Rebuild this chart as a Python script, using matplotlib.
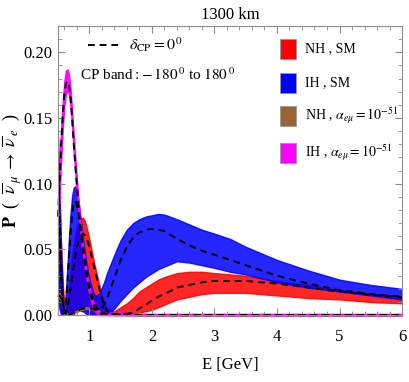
import matplotlib
matplotlib.use("Agg")
import matplotlib.pyplot as plt
from matplotlib.patches import Rectangle

plt.rcParams['font.family'] = ['Liberation Serif', 'DejaVu Serif']
plt.rcParams['mathtext.fontset'] = 'stix'

# ---------------- data ----------------
E = [0.5, 0.525, 0.55, 0.575, 0.6, 0.625, 0.65, 0.675, 0.7, 0.725, 0.75, 0.775,
     0.8, 0.825, 0.85, 0.875, 0.9, 0.925, 0.95, 0.975, 1.0, 1.025, 1.05, 1.075,
     1.1, 1.125, 1.15, 1.175, 1.2, 1.225, 1.25, 1.275, 1.3,
     1.4, 1.5, 1.6, 1.7, 1.8, 1.9, 2.0, 2.1, 2.2,
     2.4, 2.6, 2.8, 3.0, 3.25, 3.5, 3.75, 4.0, 4.5, 5.0, 5.5, 6.0]

# IH, SM (blue band)
ih_sm_upper = [0.135, 0.090, 0.048, 0.016, 0.004, 0.018, 0.038, 0.060, 0.078, 0.091, 0.097, 0.098,
               0.094, 0.087, 0.078, 0.068, 0.058, 0.049, 0.041, 0.034, 0.028, 0.023, 0.019, 0.016,
               0.015, 0.015, 0.016, 0.018, 0.021, 0.024, 0.027, 0.031, 0.034,
               0.046, 0.057, 0.065, 0.070, 0.073, 0.075, 0.076, 0.077, 0.0765,
               0.073, 0.069, 0.065, 0.062, 0.058, 0.052, 0.047, 0.042, 0.034, 0.027, 0.023, 0.020]
ih_sm_lower = [0.020, 0.005, 0.0, 0.0, 0.0, 0.0, 0.0, 0.0, 0.001, 0.002, 0.003, 0.004,
               0.004, 0.004, 0.004, 0.003, 0.003, 0.002, 0.001, 0.0, 0.0, 0.0, 0.0, 0.0,
               0.0, 0.0, 0.0, 0.0, 0.0, 0.0, 0.0, 0.0, 0.001,
               0.005, 0.011, 0.016, 0.021, 0.025, 0.029, 0.032, 0.035, 0.037,
               0.041, 0.040, 0.038, 0.036, 0.033, 0.031, 0.028, 0.025, 0.021, 0.018, 0.015, 0.012]
ih_sm_d0 = [0.120, 0.070, 0.030, 0.008, 0.002, 0.010, 0.025, 0.045, 0.063, 0.077, 0.085, 0.087,
            0.084, 0.078, 0.070, 0.061, 0.052, 0.044, 0.036, 0.029, 0.023, 0.018, 0.013, 0.010,
            0.007, 0.005, 0.004, 0.004, 0.005, 0.007, 0.009, 0.012, 0.015,
            0.028, 0.042, 0.052, 0.059, 0.063, 0.065, 0.0655, 0.065, 0.064,
            0.058, 0.053, 0.049, 0.046, 0.042, 0.038, 0.034, 0.030, 0.024, 0.019, 0.016, 0.014]

# NH, SM (red band)
nh_sm_upper = [0.112, 0.082, 0.050, 0.024, 0.008, 0.004, 0.012, 0.022, 0.033, 0.044, 0.053, 0.061,
               0.067, 0.071, 0.073, 0.074, 0.074, 0.072, 0.068, 0.063, 0.058, 0.052, 0.046, 0.040,
               0.035, 0.030, 0.025, 0.020, 0.016, 0.012, 0.009, 0.006, 0.005,
               0.003, 0.006, 0.009, 0.013, 0.018, 0.021, 0.024, 0.027, 0.029,
               0.032, 0.033, 0.033, 0.032, 0.031, 0.030, 0.028, 0.026, 0.023, 0.019, 0.016, 0.014]
nh_sm_lower = [0.020, 0.005, 0.0, 0.0, 0.0, 0.0, 0.0, 0.0, 0.0, 0.0, 0.001, 0.002,
               0.003, 0.004, 0.005, 0.005, 0.005, 0.004, 0.003, 0.002, 0.001, 0.0, 0.0, 0.0,
               0.0, 0.0, 0.0, 0.0, 0.0, 0.0, 0.0, 0.0, 0.0,
               0.0, 0.0, 0.0, 0.001, 0.002, 0.003, 0.004, 0.006, 0.008,
               0.012, 0.014, 0.016, 0.017, 0.017, 0.017, 0.016, 0.015, 0.013, 0.012, 0.010, 0.009]
nh_sm_d0 = [0.100, 0.060, 0.030, 0.010, 0.002, 0.001, 0.005, 0.012, 0.020, 0.029, 0.037, 0.045,
            0.051, 0.056, 0.059, 0.061, 0.062, 0.061, 0.059, 0.056, 0.052, 0.047, 0.042, 0.037,
            0.032, 0.027, 0.022, 0.017, 0.013, 0.009, 0.006, 0.004, 0.002,
            0.0005, 0.0005, 0.001, 0.002, 0.005, 0.008, 0.011, 0.014, 0.016,
            0.021, 0.023, 0.025, 0.026, 0.026, 0.026, 0.025, 0.024, 0.021, 0.018, 0.0155, 0.0135]

# NH, alpha_emu = 1e-51 (brown band)
nh_lrf_upper = [0.016, 0.017, 0.015, 0.011, 0.006, 0.003, 0.001, 0.0005, 0.001, 0.0015, 0.002, 0.003,
                0.0035, 0.004, 0.0048, 0.0053, 0.0057, 0.006, 0.006, 0.006, 0.006, 0.0058, 0.0055, 0.005,
                0.0045, 0.004, 0.0035, 0.003, 0.0025, 0.002, 0.0015, 0.0012, 0.001,
                0.0008, 0.0005, 0.0003, 0.0, 0.0, 0.0, 0.0, 0.0, 0.0,
                0.0, 0.0, 0.0, 0.0, 0.0, 0.0, 0.0, 0.0, 0.0, 0.0, 0.0, 0.0]
nh_lrf_lower = [0.012, 0.013, 0.011, 0.007, 0.004, 0.0015, 0.0004, 0.0, 0.0004, 0.0009, 0.0013, 0.002,
                0.0025, 0.003, 0.0036, 0.004, 0.0043, 0.0046, 0.0047, 0.0047, 0.0046, 0.0044, 0.0041, 0.0038,
                0.0034, 0.003, 0.0026, 0.0022, 0.0018, 0.0014, 0.001, 0.0008, 0.0006,
                0.0, 0.0, 0.0, 0.0, 0.0, 0.0, 0.0, 0.0, 0.0,
                0.0, 0.0, 0.0, 0.0, 0.0, 0.0, 0.0, 0.0, 0.0, 0.0, 0.0, 0.0]
nh_lrf_d0 = [0.014, 0.015, 0.013, 0.009, 0.005, 0.002, 0.0007, 0.0003, 0.0007, 0.0012, 0.0017, 0.0025,
             0.003, 0.0035, 0.0042, 0.0047, 0.005, 0.0053, 0.0054, 0.0054, 0.0053, 0.0051, 0.0048, 0.0044,
             0.004, 0.0035, 0.003, 0.0026, 0.0022, 0.0017, 0.0013, 0.001, 0.0008,
             0.0004, 0.0002, 0.0, 0.0, 0.0, 0.0, 0.0, 0.0, 0.0,
             0.0, 0.0, 0.0, 0.0, 0.0, 0.0, 0.0, 0.0, 0.0, 0.0, 0.0, 0.0]

# IH, alpha_emu = 1e-51 (magenta band)
ih_lrf_upper = [0.090, 0.118, 0.143, 0.163, 0.178, 0.186, 0.187, 0.183, 0.172, 0.155, 0.137, 0.120,
                0.104, 0.089, 0.075, 0.063, 0.052, 0.043, 0.035, 0.028, 0.022, 0.017, 0.012, 0.008,
                0.005, 0.003, 0.002, 0.002, 0.002, 0.002, 0.002, 0.002, 0.002,
                0.002, 0.002, 0.002, 0.0015, 0.001, 0.001, 0.001, 0.001, 0.001,
                0.001, 0.001, 0.001, 0.001, 0.001, 0.001, 0.001, 0.001, 0.001, 0.001, 0.001, 0.001]
ih_lrf_lower = [0.062, 0.090, 0.118, 0.142, 0.159, 0.168, 0.171, 0.168, 0.158, 0.143, 0.125, 0.108,
                0.093, 0.079, 0.067, 0.055, 0.046, 0.037, 0.029, 0.022, 0.016, 0.011, 0.007, 0.004,
                0.002, 0.001, 0.0, 0.0, 0.0, 0.0, 0.0, 0.0, 0.0,
                0.0, 0.0, 0.0, 0.0, 0.0, 0.0, 0.0, 0.0, 0.0,
                0.0, 0.0, 0.0, 0.0, 0.0, 0.0, 0.0, 0.0, 0.0, 0.0, 0.0, 0.0]
ih_lrf_d0 = [0.075, 0.103, 0.130, 0.152, 0.168, 0.176, 0.178, 0.175, 0.165, 0.149, 0.131, 0.114,
             0.099, 0.084, 0.071, 0.059, 0.049, 0.040, 0.032, 0.025, 0.019, 0.014, 0.010, 0.006,
             0.004, 0.002, 0.001, 0.001, 0.001, 0.001, 0.001, 0.001, 0.001,
             0.001, 0.001, 0.001, 0.0005, 0.0, 0.0, 0.0, 0.0, 0.0,
             0.0, 0.0, 0.0, 0.0, 0.0, 0.0, 0.0, 0.0, 0.0, 0.0, 0.0, 0.0]

band_labels = ['NH , SM', 'IH , SM',
               r'NH , $\alpha_{e\mu}=10^{-51}$', r'IH , $\alpha_{e\mu}=10^{-51}$']
x_ticks = [1, 2, 3, 4, 5, 6]
y_ticks = [0.00, 0.05, 0.10, 0.15, 0.20]
y_ticklabels = ['0.00', '0.05', '0.10', '0.15', '0.20']

# ---------------- styling ----------------
RED = '#ff0000'
BLUE = '#0000ff'
BROWN = '#996633'
MAGENTA = '#ff00ff'
FRAME = '#8c8c8c'
DASH = (0, (3.5, 2.5))

fig = plt.figure(figsize=(4.09, 3.82), dpi=100)
ax = fig.add_axes([0.142, 0.175, 0.841, 0.757])

bands = [
    (nh_sm_lower, nh_sm_upper, RED, 0.85, True),
    (ih_sm_lower, ih_sm_upper, BLUE, 0.85, True),
    (nh_lrf_lower, nh_lrf_upper, BROWN, 0.9, False),
    (ih_lrf_lower, ih_lrf_upper, MAGENTA, 0.95, False),
]
for lo, up, c, a, clip in bands:
    ax.fill_between(E, lo, up, color=c, alpha=a, lw=1.0, edgecolor=c, clip_on=clip)

for d0, clip in [(nh_sm_d0, True), (ih_sm_d0, True), (nh_lrf_d0, False), (ih_lrf_d0, False)]:
    ax.plot(E, d0, color='black', lw=1.4, ls=DASH, clip_on=clip)

ax.set_xlim(0.5, 6.0)
ax.set_ylim(0.0, 0.22)
ax.set_xticks(x_ticks)
ax.set_xticklabels([str(t) for t in x_ticks])
ax.set_yticks(y_ticks)
ax.set_yticklabels(y_ticklabels)
ax.set_xticks([0.6, 0.8] + [v / 10 for v in range(12, 60, 2) if v % 10 != 0], minor=True)
ax.set_yticks([v / 100 for v in range(1, 22) if v % 5 != 0], minor=True)

ax.tick_params(which='both', direction='in', top=True, right=True, color=FRAME,
               labelsize=12)
ax.tick_params(which='major', length=5, width=0.8)
ax.tick_params(which='minor', length=2.8, width=0.6)
ax.tick_params(axis='x', pad=10)
ax.tick_params(axis='y', pad=4)
for s in ax.spines.values():
    s.set_color(FRAME)
    s.set_linewidth(0.8)

ax.set_title('1300 km', fontsize=12, pad=5)
ax.set_xlabel('E [GeV]', fontsize=12)
ax.xaxis.set_label_coords(0.5, -0.145)
ax.set_ylabel(r'$\mathbf{P}$  (  $\overline{\nu}_{\,\mu}\;\rightarrow\;\overline{\nu}_{\,e}$  )',
              fontsize=13)
ax.yaxis.set_label_coords(-0.10, 0.5)

# upper-left legend text
ax.plot([0.087, 0.180], [0.934, 0.934], transform=ax.transAxes, color='black',
        lw=1.4, ls=DASH)
ax.text(0.205, 0.934, r'$\delta_{\rm CP}=0^{\,0}$', transform=ax.transAxes,
        fontsize=11.5, va='center', ha='left')
ax.text(0.064, 0.830, r'CP band$:\!-180^{\,0}$ to $180^{\,0}$', transform=ax.transAxes,
        fontsize=11, va='center', ha='left')

# right legend (swatches)
sw_y = [0.920, 0.803, 0.689, 0.561]
sw_c = [RED, BLUE, BROWN, MAGENTA]
for yc, c, lab in zip(sw_y, sw_c, band_labels):
    ax.add_patch(Rectangle((0.645, yc - 0.034), 0.047, 0.068, transform=ax.transAxes,
                           facecolor=c, edgecolor='#999999', lw=0.6, zorder=5))
    ax.text(0.718, yc, lab, transform=ax.transAxes, fontsize=10, va='center', ha='left')

fig.savefig('out.png', dpi=100)
